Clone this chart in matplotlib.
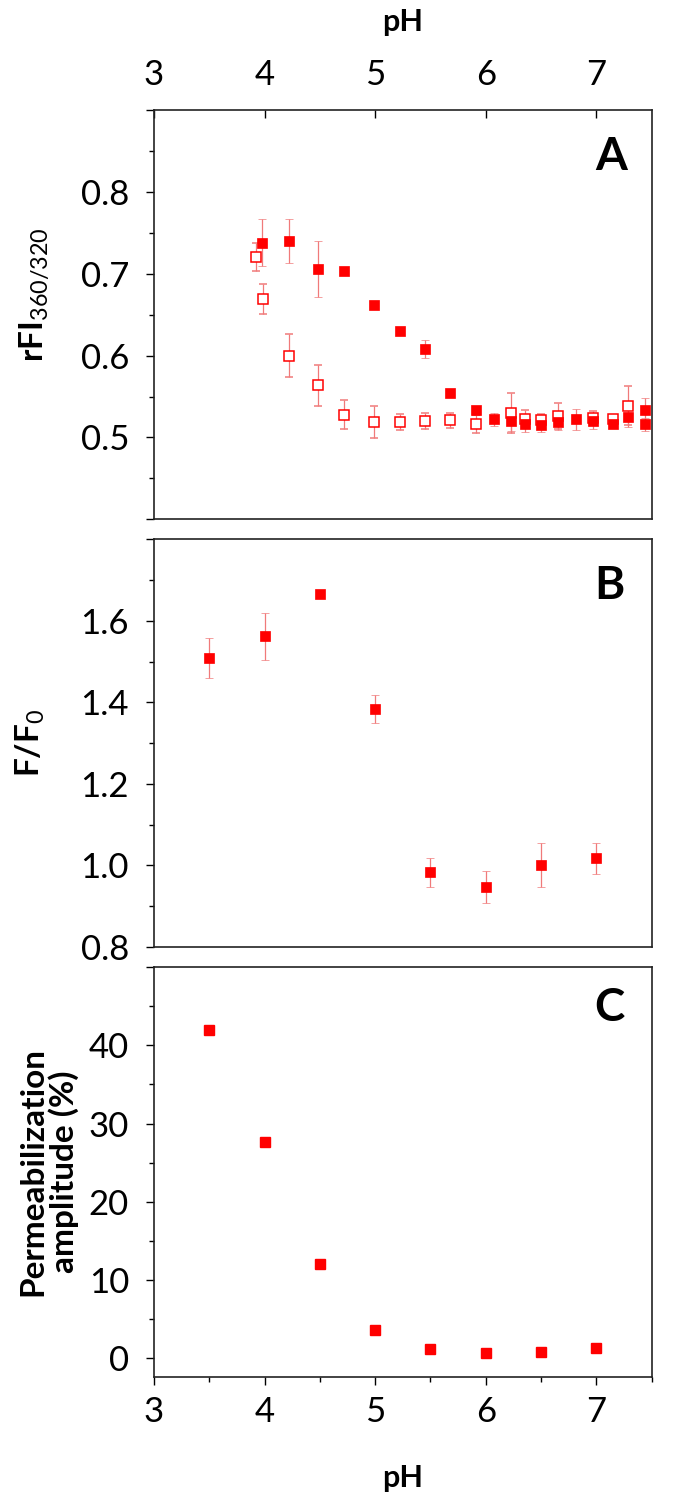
import matplotlib
matplotlib.use("Agg")
import matplotlib.pyplot as plt
from matplotlib.ticker import MultipleLocator, FixedLocator

plt.rcParams['font.family'] = ['Lato', 'DejaVu Sans']
plt.rcParams['mathtext.fontset'] = 'custom'
plt.rcParams['mathtext.rm'] = 'Lato'
plt.rcParams['mathtext.bf'] = 'Lato:bold'

RED = '#ff0000'
ERR = '#f07a7a'

# panel A, filled squares
a_fill_ph = [3.98, 4.22, 4.48, 4.72, 4.99, 5.22, 5.45, 5.68, 5.91, 6.07,
             6.23, 6.35, 6.50, 6.65, 6.82, 6.97, 7.15, 7.29, 7.44, 7.44]
a_fill_val = [0.738, 0.740, 0.706, 0.703, 0.662, 0.630, 0.608, 0.554, 0.533, 0.522,
              0.520, 0.516, 0.515, 0.519, 0.522, 0.520, 0.517, 0.525, 0.533, 0.516]
a_fill_err = [0.029, 0.027, 0.034, 0.005, 0.004, 0.004, 0.011, 0.004, 0.006, 0.008,
              0.012, 0.009, 0.008, 0.010, 0.013, 0.010, 0.006, 0.012, 0.015, 0.008]

# panel A, open squares
a_open_ph = [3.92, 3.99, 4.22, 4.48, 4.72, 4.99, 5.22, 5.45, 5.68, 5.91,
             6.23, 6.35, 6.50, 6.65, 6.97, 7.15, 7.29]
a_open_val = [0.720, 0.669, 0.600, 0.564, 0.528, 0.519, 0.519, 0.520, 0.521, 0.517,
              0.530, 0.523, 0.521, 0.526, 0.524, 0.522, 0.539]
a_open_err = [0.017, 0.018, 0.026, 0.025, 0.018, 0.020, 0.010, 0.010, 0.009, 0.011,
              0.024, 0.010, 0.008, 0.016, 0.008, 0.006, 0.024]

# panel B
b_ph = [3.5, 4.0, 4.5, 5.0, 5.5, 6.0, 6.5, 7.0]
b_val = [1.510, 1.562, 1.665, 1.383, 0.983, 0.947, 1.000, 1.018]
b_err = [0.049, 0.057, 0.0, 0.034, 0.035, 0.040, 0.054, 0.038]

# panel C
c_ph = [3.5, 4.0, 4.5, 5.0, 5.5, 6.0, 6.5, 7.0]
c_val = [42.0, 27.6, 12.0, 3.6, 1.1, 0.65, 0.7, 1.25]

fig = plt.figure(figsize=(7, 15.01), dpi=100)
axA = fig.add_axes([0.22, 0.654, 0.711, 0.2727])
axB = fig.add_axes([0.22, 0.3691, 0.711, 0.2716])
axC = fig.add_axes([0.22, 0.0828, 0.711, 0.2728])

for ax in (axA, axB, axC):
    ax.set_xlim(3, 7.5)
    for s in ax.spines.values():
        s.set_linewidth(1.2)
        s.set_color('#222222')
    ax.tick_params(axis='y', which='major', direction='out', length=6, width=1,
                   labelsize=25, pad=12, right=False)
    ax.tick_params(axis='y', which='minor', direction='out', length=3.5, width=1, right=False)

eb = dict(ls='none', marker='s', ms=7.5, ecolor=ERR, elinewidth=0.9,
          capsize=3, capthick=0.9)

# panel A
axA.errorbar(a_open_ph, a_open_val, yerr=a_open_err, mfc='white', mec=RED,
             mew=1.1, **eb)
axA.errorbar(a_fill_ph, a_fill_val, yerr=a_fill_err, mfc=RED, mec=RED,
             mew=0.5, **eb)
axA.set_ylim(0.4, 0.9)
axA.yaxis.set_major_locator(FixedLocator([0.4, 0.5, 0.6, 0.7, 0.8, 0.9]))
axA.yaxis.set_minor_locator(FixedLocator([0.45, 0.55, 0.65, 0.75, 0.85]))
axA.set_yticklabels(['', '0.5', '0.6', '0.7', '0.8', ''])
axA.xaxis.set_ticks_position('top')
axA.xaxis.set_label_position('top')
axA.set_xticks([3, 4, 5, 6, 7])
axA.tick_params(axis='x', direction='in', length=6, width=1, labelsize=25, pad=14,
                bottom=False, top=True)
axA.set_xlabel('pH', fontsize=22, fontweight='bold', labelpad=20)
axA.set_ylabel(r'$\mathbf{rFI}_{\mathrm{360/320}}$', fontsize=24)
axA.yaxis.set_label_coords(-0.205, 0.55)
axA.text(0.918, 0.885, 'A', transform=axA.transAxes, fontsize=33,
         fontweight='bold', ha='center', va='center')

# panel B
axB.errorbar(b_ph, b_val, yerr=b_err, mfc=RED, mec=RED, mew=0.5, **eb)
axB.set_ylim(0.8, 1.8)
axB.yaxis.set_major_locator(MultipleLocator(0.2))
axB.yaxis.set_minor_locator(MultipleLocator(0.1))
axB.set_yticks([0.8, 1.0, 1.2, 1.4, 1.6, 1.8])
axB.set_yticklabels(['0.8', '1.0', '1.2', '1.4', '1.6', ''])
axB.tick_params(axis='x', bottom=False, top=False, labelbottom=False)
axB.set_ylabel(r'$\mathbf{F/F}_{\mathrm{0}}$', fontsize=24)
axB.yaxis.set_label_coords(-0.215, 0.5)
axB.text(0.914, 0.885, 'B', transform=axB.transAxes, fontsize=33,
         fontweight='bold', ha='center', va='center')

# panel C
axC.plot(c_ph, c_val, ls='none', marker='s', ms=7.5, color=RED)
axC.set_ylim(-2.4, 50)
axC.set_yticks([0, 10, 20, 30, 40, 50])
axC.set_yticklabels(['0', '10', '20', '30', '40', ''])
axC.yaxis.set_minor_locator(FixedLocator([5, 15, 25, 35, 45]))
axC.set_xticks([3, 4, 5, 6, 7])
axC.xaxis.set_minor_locator(MultipleLocator(0.5))
axC.tick_params(axis='x', which='major', direction='out', length=6, width=1,
                labelsize=25, pad=8, top=False)
axC.tick_params(axis='x', which='minor', direction='out', length=3.5, width=1, top=False)
axC.set_xlabel('pH', fontsize=22, fontweight='bold', labelpad=26)
axC.set_ylabel('Permeabilization\namplitude (%)', fontsize=24, fontweight='bold',
               linespacing=1.05)
axC.yaxis.set_label_coords(-0.15, 0.5)
axC.text(0.914, 0.9, 'C', transform=axC.transAxes, fontsize=33,
         fontweight='bold', ha='center', va='center')

fig.savefig('out.png', dpi=100)
